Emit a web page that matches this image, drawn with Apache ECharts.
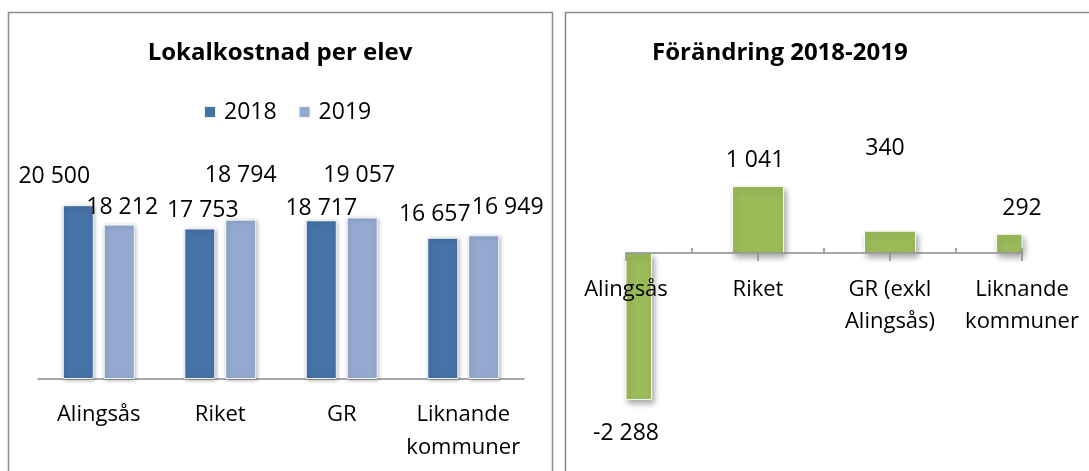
<!DOCTYPE html>
<html>
<head>
    <meta charset="utf-8" />
    <title>Lokalkostnad per elev</title>
    <script src="https://cdn.jsdelivr.net/npm/echarts@6/dist/echarts.min.js"></script>
    <style>
        html, body { margin: 0; padding: 0; background: #fff; }
        #main { width: 1089px; height: 471px; }
    </style>
</head>
<body>
    <div id="main"></div>
    <script type="text/javascript">
        // data
        var categories = ['Alingsås', 'Riket', 'GR', 'Liknande\nkommuner'];
        var cost2018 = [20500, 17753, 18717, 16657];
        var cost2019 = [18212, 18794, 19057, 16949];
        var changeCategories = ['Alingsås', 'Riket', 'GR (exkl\nAlingsås)', 'Liknande\nkommuner'];
        var change = [-2288, 1041, 340, 292];

        // label nudges (the labels were moved by hand in the original)
        var off2018 = [[-24, -18], [3, -7], [0, -1], [-8, -12]];
        var off2019 = [[3, -6], [0, -33], [-3, -31], [24, -17]];
        var offChange = [[0, 23], [-3, -15], [-5, -72], [0, -15]];

        var font = 'Open Sans';
        var zeroOffset = -192; // right chart: x axis sits on the zero line

        // 20500 -> "20 500"
        function fmt(v) {
            var s = String(Math.abs(v)).replace(/\B(?=(\d{3})+(?!\d))/g, ' ');
            return (v < 0 ? '-' : '') + s;
        }

        function withOffsets(values, offsets) {
            return values.map(function (v, i) {
                return { value: v, label: { offset: offsets[i] } };
            });
        }

        var labelStyle = {
            show: true,
            position: 'top',
            distance: 0,
            color: '#000',
            fontFamily: font,
            fontSize: 23,
            lineHeight: 22,
            formatter: function (p) { return fmt(p.value); }
        };

        // bars of the right chart sit on the ticks and are cut at the plot edge
        function renderChange(params, api) {
            var idx = api.value(0);
            var v = api.value(1);
            var top = api.coord([idx, Math.max(v, 0)]);
            var bottom = api.coord([idx, Math.min(v, 0)]);
            var w = 51;
            var cs = params.coordSys;
            var rect = echarts.graphic.clipRectByRect(
                { x: top[0] - w / 2, y: top[1], width: w, height: bottom[1] - top[1] },
                { x: cs.x, y: cs.y, width: cs.width, height: cs.height }
            );
            var off = offChange[idx];
            var ly = v < 0 ? bottom[1] + 11 + off[1] : top[1] - 11 + off[1];
            var children = [];
            if (rect) {
                children.push({
                    type: 'rect', shape: rect,
                    style: {
                        fill: '#9BBB59', stroke: 'rgba(255,255,255,0.9)', lineWidth: 1,
                        shadowColor: 'rgba(0,0,0,0.35)', shadowBlur: 6, shadowOffsetX: 2, shadowOffsetY: 4
                    }
                });
            }
            children.push({
                type: 'text', x: top[0] + off[0], y: ly,
                style: {
                    text: fmt(v), fill: '#000', fontFamily: font, fontSize: 23,
                    align: 'center', verticalAlign: 'middle'
                }
            });
            return { type: 'group', children: children };
        }

        var myChart = echarts.init(document.getElementById('main'));

        var option = {
            animation: false,
            textStyle: { fontFamily: font },
            graphic: [
                { type: 'rect', shape: { x: 8.5, y: 12.5, width: 544, height: 480 }, style: { fill: 'none', stroke: '#8a8a8a', lineWidth: 1.5 } },
                { type: 'rect', shape: { x: 565.5, y: 12.5, width: 540, height: 480 }, style: { fill: 'none', stroke: '#8a8a8a', lineWidth: 1.5 } }
            ],
            title: [
                {
                    text: 'Lokalkostnad per elev',
                    left: 280, top: 38, padding: 0,
                    textAlign: 'center',
                    textStyle: { fontFamily: font, fontSize: 24, fontWeight: 'bold', color: '#000', lineHeight: 30 }
                },
                {
                    text: 'Förändring 2018-2019',
                    left: 652, top: 38, padding: 0,
                    textStyle: { fontFamily: font, fontSize: 24, fontWeight: 'bold', color: '#000', lineHeight: 30 }
                }
            ],
            legend: {
                left: 203, top: 100, padding: 0,
                itemWidth: 12, itemHeight: 12, itemGap: 21,
                icon: 'rect',
                data: ['2018', '2019'],
                textStyle: { fontFamily: font, fontSize: 23, lineHeight: 24, color: '#000', padding: [0, 0, 0, 3] }
            },
            grid: [
                { left: 38, top: 167, width: 486, height: 212, outerBoundsMode: 'none', containLabel: false },
                { left: 626, top: 125, width: 396, height: 320, outerBoundsMode: 'none', containLabel: false }
            ],
            xAxis: [
                {
                    type: 'category', gridIndex: 0, data: categories,
                    axisLine: { lineStyle: { color: '#8a8a8a', width: 1.5 } },
                    axisTick: { show: false },
                    axisLabel: { margin: 19, color: '#000', fontFamily: font, fontSize: 22, lineHeight: 33, interval: 0 }
                },
                {
                    type: 'category', gridIndex: 1, data: changeCategories,
                    position: 'bottom', offset: zeroOffset, boundaryGap: false,
                    z: 5,
                    axisLine: { onZero: false, lineStyle: { color: '#8a8a8a', width: 1.5 } },
                    axisTick: { length: 8, lineStyle: { color: '#8a8a8a', width: 1.5 } },
                    axisLabel: { margin: 21, color: '#000', fontFamily: font, fontSize: 22, lineHeight: 32, interval: 0 }
                },
                {
                    // minor ticks between the categories
                    type: 'category', gridIndex: 1, data: ['', '', '', '', '', '', ''],
                    position: 'bottom', offset: zeroOffset, boundaryGap: false,
                    z: 5,
                    axisLine: { show: false, onZero: false },
                    axisTick: {
                        inside: true, length: 5,
                        interval: function (i) { return i % 2 === 1 || i === 6; },
                        lineStyle: { color: '#8a8a8a', width: 1.5 }
                    },
                    axisLabel: { show: false }
                }
            ],
            yAxis: [
                { type: 'value', gridIndex: 0, min: 0, max: 25000, show: false },
                { type: 'value', gridIndex: 1, min: -3000, max: 2000, show: false }
            ],
            series: [
                {
                    name: '2018', type: 'bar', xAxisIndex: 0, yAxisIndex: 0,
                    barWidth: 31, barGap: '32%',
                    data: withOffsets(cost2018, off2018),
                    label: labelStyle,
                    itemStyle: {
                        color: '#4572A7', borderColor: 'rgba(255,255,255,0.9)', borderWidth: 1,
                        shadowColor: 'rgba(0,0,0,0.3)', shadowBlur: 4, shadowOffsetX: 1, shadowOffsetY: 1
                    }
                },
                {
                    name: '2019', type: 'bar', xAxisIndex: 0, yAxisIndex: 0,
                    barWidth: 31, barGap: '32%',
                    data: withOffsets(cost2019, off2019),
                    label: labelStyle,
                    itemStyle: {
                        color: '#93A9CF', borderColor: 'rgba(255,255,255,0.9)', borderWidth: 1,
                        shadowColor: 'rgba(0,0,0,0.3)', shadowBlur: 4, shadowOffsetX: 1, shadowOffsetY: 1
                    }
                },
                {
                    name: 'Förändring', type: 'custom', xAxisIndex: 1, yAxisIndex: 1,
                    renderItem: renderChange,
                    encode: { x: 0, y: 1 },
                    data: change.map(function (v, i) { return [i, v]; }),
                    z: 3
                }
            ]
        };

        myChart.setOption(option);
    </script>
</body>
</html>
